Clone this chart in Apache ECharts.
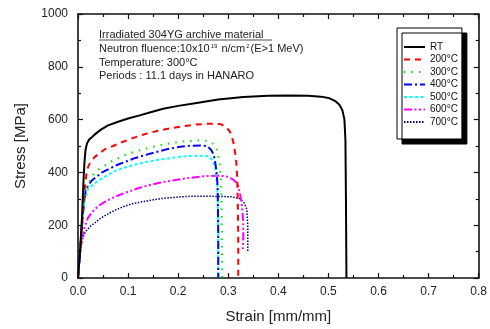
<!DOCTYPE html>
<html>
<head>
<meta charset="utf-8">
<script src="https://cdn.jsdelivr.net/npm/echarts@6/dist/echarts.min.js"></script>
<style>
html,body{margin:0;padding:0;background:#fff;}
#chart{width:490px;height:329px;}
</style>
</head>
<body>
<div id="chart"></div>
<script>
// ---- data (strain [mm/mm], stress [MPa]) ----
var seriesNames = ['RT', '200°C', '300°C', '400°C', '500°C', '600°C', '700°C'];
var xTicks = [0, 0.1, 0.2, 0.3, 0.4, 0.5, 0.6, 0.7, 0.8];
var yTicks = [0, 200, 400, 600, 800, 1000];

var dataRT = [[0,0],[0.004,100],[0.008,230],[0.011,370],[0.013,440],[0.015,485],[0.018,510],[0.022,524],[0.033,543],[0.045,561],[0.06,578],[0.08,592],[0.1,604],[0.125,617],[0.145,628],[0.17,641],[0.2,652],[0.24,664],[0.28,676],[0.33,686],[0.38,690],[0.42,691],[0.46,690],[0.485,687],[0.5,682],[0.513,671],[0.522,656],[0.528,635],[0.532,600],[0.534,520],[0.535,300],[0.536,0]];
var data200 = [[0,0],[0.005,120],[0.01,250],[0.014,350],[0.017,395],[0.02,420],[0.024,435],[0.033,458],[0.053,487],[0.07,500],[0.086,513],[0.105,527],[0.125,540],[0.145,551],[0.165,560],[0.19,569],[0.211,575],[0.235,581],[0.257,584],[0.275,584],[0.286,582],[0.295,573],[0.303,556],[0.308,530],[0.311,507],[0.314,470],[0.316,440],[0.318,374],[0.319,290],[0.32,150],[0.32,0]];
var data300 = [[0,0],[0.005,120],[0.01,250],[0.014,320],[0.02,356],[0.03,390],[0.04,410],[0.066,441],[0.099,470],[0.12,482],[0.145,495],[0.17,505],[0.191,513],[0.215,518],[0.24,521],[0.258,520],[0.266,514],[0.273,501],[0.277,488],[0.28,462],[0.283,435],[0.286,350],[0.287,200],[0.288,0]];
var data400 = [[0,0],[0.005,120],[0.01,250],[0.015,330],[0.02,350],[0.027,368],[0.047,399],[0.079,429],[0.112,453],[0.135,466],[0.158,478],[0.18,489],[0.204,497],[0.225,501],[0.245,502],[0.258,500],[0.266,485],[0.27,471],[0.273,450],[0.276,411],[0.278,370],[0.279,326],[0.28,170],[0.28,0]];
var data500 = [[0,0],[0.005,120],[0.01,240],[0.014,300],[0.02,338],[0.04,368],[0.06,390],[0.073,405],[0.093,418],[0.112,429],[0.135,439],[0.158,447],[0.18,453],[0.204,459],[0.23,463],[0.25,463],[0.26,461],[0.266,452],[0.27,441],[0.274,420],[0.276,390],[0.278,350],[0.279,302],[0.28,150],[0.28,0]];
var data600 = [[0,0],[0.004,90],[0.008,150],[0.012,185],[0.02,229],[0.03,253],[0.04,272],[0.055,290],[0.073,307],[0.099,326],[0.12,340],[0.139,350],[0.16,360],[0.185,368],[0.21,376],[0.231,381],[0.257,386],[0.28,388],[0.296,385],[0.309,374],[0.319,356],[0.324,314],[0.328,266],[0.33,200],[0.33,150],[0.329,110]];
var data700 = [[0,0],[0.004,90],[0.008,140],[0.012,165],[0.017,180],[0.025,196],[0.033,208],[0.045,226],[0.06,243],[0.075,258],[0.093,272],[0.11,282],[0.132,290],[0.15,296],[0.171,302],[0.195,306],[0.217,309],[0.244,310],[0.275,309],[0.305,308],[0.322,302],[0.332,284],[0.337,260],[0.339,200],[0.339,150],[0.339,98]];

var allData = [dataRT, data200, data300, data400, data500, data600, data700];
var colors = ['#000000', '#ff0000', '#00e000', '#0000ff', '#00ffff', '#ff00ff', '#000080'];
var dashes = ['solid', [6, 5], [1.5, 6], [8, 3, 2, 3], [3, 2.5], [8, 2.5, 2, 2.5, 2, 2.5], [1.5, 1.5]];
var widths = [2, 2, 2, 2, 2, 2, 1.5];

var FONT = 'Liberation Sans, Arial, sans-serif';
var TXT = '#222';

var chart = echarts.init(document.getElementById('chart'), null, {renderer: 'canvas'});

function axisCommon(show) {
  return {
    axisLine: {show: true, onZero: false, lineStyle: {color: '#111', width: 1.6}},
    axisTick: {show: true, inside: true, length: 5, lineStyle: {color: '#111', width: 1.2}},
    minorTick: {show: true, splitNumber: 2, length: 3, lineStyle: {color: '#111', width: 1.2}},
    splitLine: {show: false},
    minorSplitLine: {show: false},
    axisLabel: {show: show, color: TXT, fontFamily: FONT, fontSize: 12, margin: 6}
  };
}

var xBottom = Object.assign({type: 'value', position: 'bottom', min: xTicks[0], max: xTicks[xTicks.length - 1], interval: 0.1,
  name: 'Strain [mm/mm]', nameLocation: 'middle', nameGap: 31,
  nameTextStyle: {color: TXT, fontFamily: FONT, fontSize: 15}}, axisCommon(true));
xBottom.axisLabel.formatter = function (v) { return v.toFixed(1); };
xBottom.axisLabel.margin = 8;
var xTop = Object.assign({type: 'value', position: 'top', min: xTicks[0], max: xTicks[xTicks.length - 1], interval: 0.1}, axisCommon(false));
var yLeft = Object.assign({type: 'value', position: 'left', min: yTicks[0], max: yTicks[yTicks.length - 1], interval: 200,
  name: 'Stress [MPa]', nameLocation: 'middle', nameGap: 50,
  nameTextStyle: {color: TXT, fontFamily: FONT, fontSize: 15}}, axisCommon(true));
yLeft.axisLabel.margin = 10;
yLeft.axisLabel.formatter = function (v) { return String(v); };
var yRight = Object.assign({type: 'value', position: 'right', min: yTicks[0], max: yTicks[yTicks.length - 1], interval: 200}, axisCommon(false));

var series = allData.map(function (d, i) {
  return {
    name: seriesNames[i], type: 'line', data: d, xAxisIndex: 0, yAxisIndex: 0,
    symbol: 'none', showSymbol: false, smooth: false, animation: false,
    z: 10 - i,
    lineStyle: {color: colors[i], width: widths[i], type: dashes[i]},
    itemStyle: {color: colors[i]}
  };
});

chart.setOption({
  animation: false,
  backgroundColor: '#fff',
  grid: {left: 78, right: 6, top: 14, bottom: 39},
  xAxis: [xBottom, xTop],
  yAxis: [yLeft, yRight],
  legend: {
    orient: 'vertical', left: 397, top: 28,
    padding: [14, 4, 12, 6],
    itemWidth: 21, itemHeight: 10, itemGap: 2.5, itemTextGap: 3,
    backgroundColor: '#fff', borderColor: '#000', borderWidth: 1,
    shadowColor: '#000', shadowBlur: 0, shadowOffsetX: 5, shadowOffsetY: 5,
    itemStyle: {opacity: 0},
    textStyle: {color: '#111', fontFamily: FONT, fontSize: 10},
    data: seriesNames,
    selectedMode: false
  },
  graphic: [
    {type: 'text', left: 99, top: 29, z: 100, style: {text: 'Irradiated 304YG archive material', font: '11px ' + FONT, fill: TXT}},
    {type: 'line', z: 100, shape: {x1: 99, y1: 40, x2: 272, y2: 40}, style: {stroke: TXT, lineWidth: 0.8}},
    {type: 'text', left: 99, top: 43, z: 100, style: {
      text: 'Neutron fluence:10x10{s|19} n/cm{s|2}(E>1 MeV)', font: '11px ' + FONT, fill: TXT,
      rich: {s: {fontSize: 6, verticalAlign: 'top', fill: TXT, fontFamily: FONT, padding: [0, 1, 5, 1]}}}},
    {type: 'text', left: 99, top: 57, z: 100, style: {text: 'Temperature: 300°C', font: '11px ' + FONT, fill: TXT}},
    {type: 'text', left: 99, top: 70, z: 100, style: {text: 'Periods : 11.1 days in HANARO', font: '11px ' + FONT, fill: TXT}}
  ],
  series: series
});
</script>
</body>
</html>
